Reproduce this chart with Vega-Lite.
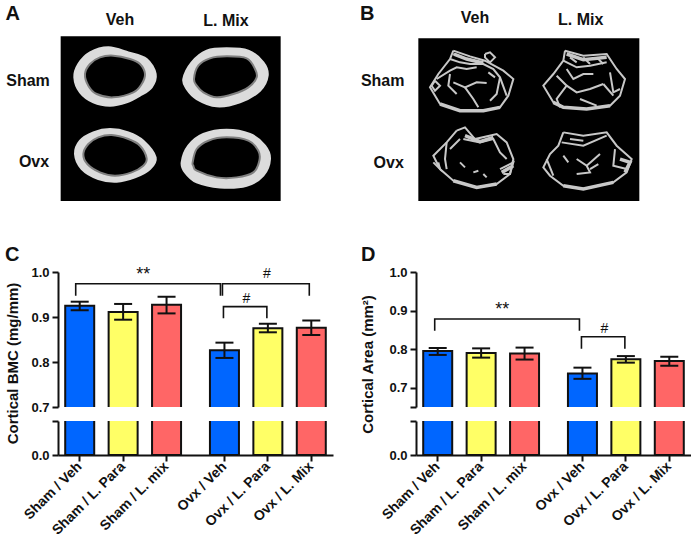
{
"$schema":"https://vega.github.io/schema/vega-lite/v6.json",
"padding":{"left":4,"top":3,"right":0,"bottom":0},
"background":"white",
"bounds":"flush",
"columns":2,
"spacing":{"row":14,"column":83},
"config":{"view":{"stroke":null},"font":"Liberation Sans","axis":{"labelFont":"Liberation Sans","titleFont":"Liberation Sans","labelFontWeight":"bold","titleFontWeight":"bold","labelFontSize":13,"titleFontSize":15,"labelColor":"#111","titleColor":"#111","domainColor":"#111","tickColor":"#111","domainWidth":2,"tickWidth":2,"tickSize":6,"grid":false,"labelPadding":3,"labelOverlap":false}},
"datasets":{
"frameA":[{"x":182,"x2":842,"y":112,"y2":606}],
"frameB":[{"x":205,"x2":868,"y":118,"y2":606}],
"labelsA":[{"t":"Veh","x":360,"y":63},{"t":"L. Mix","x":678,"y":66},{"t":"Sham","x":84,"y":247},{"t":"Ovx","x":102,"y":489}],
"labelsB":[{"t":"Veh","x":375,"y":58},{"t":"L. Mix","x":692,"y":63},{"t":"Sham","x":98,"y":246},{"t":"Ovx","x":116,"y":491}],
"outer":[
{"r":1,"i":1,"x":223,"y":235},{"r":1,"i":2,"x":235,"y":195},{"r":1,"i":3,"x":270,"y":160},{"r":1,"i":4,"x":325,"y":145},{"r":1,"i":5,"x":385,"y":160},{"r":1,"i":6,"x":440,"y":180},{"r":1,"i":7,"x":467,"y":225},{"r":1,"i":8,"x":455,"y":265},{"r":1,"i":9,"x":420,"y":290},{"r":1,"i":10,"x":380,"y":310},{"r":1,"i":11,"x":330,"y":320},{"r":1,"i":12,"x":280,"y":310},{"r":1,"i":13,"x":240,"y":280},
{"r":2,"i":1,"x":550,"y":240},{"r":2,"i":2,"x":575,"y":190},{"r":2,"i":3,"x":620,"y":155},{"r":2,"i":4,"x":680,"y":148},{"r":2,"i":5,"x":745,"y":155},{"r":2,"i":6,"x":790,"y":190},{"r":2,"i":7,"x":803,"y":230},{"r":2,"i":8,"x":780,"y":275},{"r":2,"i":9,"x":720,"y":310},{"r":2,"i":10,"x":650,"y":322},{"r":2,"i":11,"x":590,"y":300},{"r":2,"i":12,"x":560,"y":270},
{"r":3,"i":1,"x":225,"y":465},{"r":3,"i":2,"x":240,"y":425},{"r":3,"i":3,"x":280,"y":400},{"r":3,"i":4,"x":330,"y":390},{"r":3,"i":5,"x":385,"y":400},{"r":3,"i":6,"x":430,"y":425},{"r":3,"i":7,"x":467,"y":475},{"r":3,"i":8,"x":450,"y":510},{"r":3,"i":9,"x":405,"y":535},{"r":3,"i":10,"x":350,"y":548},{"r":3,"i":11,"x":295,"y":540},{"r":3,"i":12,"x":245,"y":510},
{"r":4,"i":1,"x":545,"y":490},{"r":4,"i":2,"x":565,"y":440},{"r":4,"i":3,"x":610,"y":405},{"r":4,"i":4,"x":680,"y":392},{"r":4,"i":5,"x":750,"y":405},{"r":4,"i":6,"x":795,"y":440},{"r":4,"i":7,"x":810,"y":480},{"r":4,"i":8,"x":790,"y":530},{"r":4,"i":9,"x":740,"y":560},{"r":4,"i":10,"x":660,"y":565},{"r":4,"i":11,"x":590,"y":550},{"r":4,"i":12,"x":555,"y":520}],
"inner":[
{"r":1,"i":1,"x":255,"y":225},{"r":1,"i":2,"x":270,"y":195},{"r":1,"i":3,"x":300,"y":175},{"r":1,"i":4,"x":340,"y":170},{"r":1,"i":5,"x":390,"y":180},{"r":1,"i":6,"x":420,"y":195},{"r":1,"i":7,"x":435,"y":225},{"r":1,"i":8,"x":425,"y":255},{"r":1,"i":9,"x":400,"y":280},{"r":1,"i":10,"x":340,"y":295},{"r":1,"i":11,"x":290,"y":285},{"r":1,"i":12,"x":265,"y":260},
{"r":2,"i":1,"x":582,"y":240},{"r":2,"i":2,"x":595,"y":200},{"r":2,"i":3,"x":630,"y":178},{"r":2,"i":4,"x":680,"y":172},{"r":2,"i":5,"x":740,"y":178},{"r":2,"i":6,"x":765,"y":210},{"r":2,"i":7,"x":770,"y":235},{"r":2,"i":8,"x":745,"y":265},{"r":2,"i":9,"x":700,"y":285},{"r":2,"i":10,"x":650,"y":295},{"r":2,"i":11,"x":610,"y":280},{"r":2,"i":12,"x":590,"y":260},
{"r":3,"i":1,"x":250,"y":465},{"r":3,"i":2,"x":265,"y":435},{"r":3,"i":3,"x":295,"y":415},{"r":3,"i":4,"x":335,"y":408},{"r":3,"i":5,"x":385,"y":420},{"r":3,"i":6,"x":420,"y":440},{"r":3,"i":7,"x":440,"y":478},{"r":3,"i":8,"x":430,"y":500},{"r":3,"i":9,"x":395,"y":520},{"r":3,"i":10,"x":345,"y":530},{"r":3,"i":11,"x":300,"y":520},{"r":3,"i":12,"x":262,"y":495},
{"r":4,"i":1,"x":578,"y":490},{"r":4,"i":2,"x":590,"y":450},{"r":4,"i":3,"x":625,"y":425},{"r":4,"i":4,"x":680,"y":415},{"r":4,"i":5,"x":745,"y":425},{"r":4,"i":6,"x":775,"y":455},{"r":4,"i":7,"x":778,"y":485},{"r":4,"i":8,"x":760,"y":520},{"r":4,"i":9,"x":710,"y":535},{"r":4,"i":10,"x":650,"y":535},{"r":4,"i":11,"x":590,"y":515},{"r":4,"i":12,"x":580,"y":500}],
"bands":[
{"s":"a","i":1,"x":312,"y":165},{"s":"a","i":2,"x":350,"y":180},{"s":"a","i":3,"x":400,"y":192},
{"s":"b","i":1,"x":650,"y":165},{"s":"b","i":2,"x":700,"y":182},{"s":"b","i":3,"x":770,"y":175},
{"s":"c","i":1,"x":345,"y":410},{"s":"c","i":2,"x":390,"y":428},{"s":"c","i":3,"x":430,"y":415},
{"s":"d","i":1,"x":455,"y":520},{"s":"d","i":2,"x":490,"y":500},
{"s":"e","i":1,"x":270,"y":315},{"s":"e","i":2,"x":330,"y":335},{"s":"e","i":3,"x":400,"y":335},{"s":"e","i":4,"x":450,"y":325},
{"s":"f","i":1,"x":610,"y":310},{"s":"f","i":2,"x":640,"y":325},{"s":"f","i":3,"x":710,"y":330},{"s":"f","i":4,"x":780,"y":320},
{"s":"g","i":1,"x":310,"y":545},{"s":"g","i":2,"x":380,"y":565},{"s":"g","i":3,"x":440,"y":555},
{"s":"h","i":1,"x":640,"y":560},{"s":"h","i":2,"x":700,"y":570},{"s":"h","i":3,"x":790,"y":550},
{"s":"k","i":1,"x":810,"y":480},{"s":"k","i":2,"x":840,"y":490},{"s":"k","i":3,"x":825,"y":520}],
"trabeculae":[
{"s":"a","i":1,"x":310,"y":155},{"s":"a","i":2,"x":360,"y":172},{"s":"a","i":3,"x":405,"y":185},{"s":"a","i":4,"x":460,"y":215},{"s":"a","i":5,"x":490,"y":240},{"s":"a","i":6,"x":475,"y":290},{"s":"a","i":7,"x":450,"y":325},{"s":"a","i":8,"x":400,"y":335},{"s":"a","i":9,"x":330,"y":335},{"s":"a","i":10,"x":270,"y":315},{"s":"a","i":11,"x":240,"y":265},{"s":"a","i":12,"x":265,"y":225},{"s":"a","i":13,"x":300,"y":180},{"s":"a","i":14,"x":310,"y":155},
{"s":"b","i":1,"x":300,"y":180},{"s":"b","i":2,"x":330,"y":190},{"s":"b","i":3,"x":360,"y":195},{"s":"b","i":4,"x":400,"y":195},{"s":"b","i":5,"x":430,"y":210},{"s":"b","i":6,"x":450,"y":235},{"s":"b","i":7,"x":470,"y":290},
{"s":"c","i":1,"x":260,"y":240},{"s":"c","i":2,"x":300,"y":215},{"s":"c","i":3,"x":320,"y":205},{"s":"c","i":4,"x":350,"y":210},{"s":"c","i":5,"x":380,"y":205},
{"s":"d","i":1,"x":300,"y":225},{"s":"d","i":2,"x":295,"y":260},{"s":"d","i":3,"x":320,"y":285},
{"s":"e","i":1,"x":310,"y":250},{"s":"e","i":2,"x":345,"y":265},{"s":"e","i":3,"x":380,"y":250},{"s":"e","i":4,"x":410,"y":252},
{"s":"f","i":1,"x":345,"y":265},{"s":"f","i":2,"x":370,"y":300},{"s":"f","i":3,"x":385,"y":325},
{"s":"g","i":1,"x":450,"y":235},{"s":"g","i":2,"x":440,"y":285},{"s":"g","i":3,"x":420,"y":305},
{"s":"h","i":1,"x":415,"y":220},{"s":"h","i":2,"x":435,"y":235},
{"s":"k","i":1,"x":405,"y":165},{"s":"k","i":2,"x":420,"y":160},{"s":"k","i":3,"x":435,"y":175},{"s":"k","i":4,"x":420,"y":190},{"s":"k","i":5,"x":405,"y":175},{"s":"k","i":6,"x":405,"y":165},
{"s":"l","i":1,"x":310,"y":165},{"s":"l","i":2,"x":350,"y":180},{"s":"l","i":3,"x":390,"y":190},
{"s":"m","i":1,"x":255,"y":245},{"s":"m","i":2,"x":270,"y":260},{"s":"m","i":3,"x":255,"y":275},{"s":"m","i":4,"x":245,"y":260},{"s":"m","i":5,"x":255,"y":245},
{"s":"n","i":1,"x":645,"y":155},{"s":"n","i":2,"x":700,"y":170},{"s":"n","i":3,"x":770,"y":165},{"s":"n","i":4,"x":800,"y":210},{"s":"n","i":5,"x":825,"y":240},{"s":"n","i":6,"x":810,"y":290},{"s":"n","i":7,"x":780,"y":320},{"s":"n","i":8,"x":710,"y":330},{"s":"n","i":9,"x":640,"y":325},{"s":"n","i":10,"x":610,"y":310},{"s":"n","i":11,"x":580,"y":260},{"s":"n","i":12,"x":610,"y":225},{"s":"n","i":13,"x":640,"y":185},{"s":"n","i":14,"x":645,"y":155},
{"s":"o","i":1,"x":640,"y":185},{"s":"o","i":2,"x":680,"y":205},{"s":"o","i":3,"x":720,"y":200},{"s":"o","i":4,"x":770,"y":190},
{"s":"p","i":1,"x":660,"y":175},{"s":"p","i":2,"x":680,"y":190},
{"s":"q","i":1,"x":700,"y":175},{"s":"q","i":2,"x":720,"y":195},
{"s":"r","i":1,"x":740,"y":175},{"s":"r","i":2,"x":760,"y":195},
{"s":"t","i":1,"x":620,"y":230},{"s":"t","i":2,"x":650,"y":260},{"s":"t","i":3,"x":620,"y":300},{"s":"t","i":4,"x":630,"y":325},
{"s":"u","i":1,"x":650,"y":260},{"s":"u","i":2,"x":680,"y":280},{"s":"u","i":3,"x":720,"y":270},{"s":"u","i":4,"x":760,"y":255},
{"s":"v","i":1,"x":650,"y":210},{"s":"v","i":2,"x":670,"y":240},{"s":"v","i":3,"x":700,"y":225},{"s":"v","i":4,"x":730,"y":225},
{"s":"w","i":1,"x":780,"y":220},{"s":"w","i":2,"x":790,"y":280},{"s":"w","i":3,"x":810,"y":270},
{"s":"x","i":1,"x":760,"y":255},{"s":"x","i":2,"x":790,"y":290},
{"s":"y","i":1,"x":690,"y":300},{"s":"y","i":2,"x":740,"y":320},
{"s":"z","i":1,"x":320,"y":395},{"s":"z","i":2,"x":345,"y":385},{"s":"z","i":3,"x":375,"y":420},{"s":"z","i":4,"x":440,"y":405},{"s":"z","i":5,"x":470,"y":430},{"s":"z","i":6,"x":490,"y":480},{"s":"z","i":7,"x":480,"y":525},{"s":"z","i":8,"x":440,"y":555},{"s":"z","i":9,"x":380,"y":565},{"s":"z","i":10,"x":310,"y":545},{"s":"z","i":11,"x":270,"y":510},{"s":"z","i":12,"x":250,"y":470},{"s":"z","i":13,"x":290,"y":430},{"s":"z","i":14,"x":320,"y":395},
{"s":"aa","i":1,"x":290,"y":430},{"s":"aa","i":2,"x":285,"y":480},{"s":"aa","i":3,"x":290,"y":510},
{"s":"ab","i":1,"x":340,"y":420},{"s":"ab","i":2,"x":390,"y":430},{"s":"ab","i":3,"x":430,"y":420},{"s":"ab","i":4,"x":450,"y":460},{"s":"ab","i":5,"x":470,"y":480},
{"s":"ac","i":1,"x":450,"y":510},{"s":"ac","i":2,"x":490,"y":490},{"s":"ac","i":3,"x":480,"y":525},{"s":"ac","i":4,"x":460,"y":525},
{"s":"ad","i":1,"x":250,"y":490},{"s":"ad","i":2,"x":270,"y":510},{"s":"ad","i":3,"x":265,"y":490},
{"s":"ae","i":1,"x":330,"y":490},{"s":"ae","i":2,"x":345,"y":505},
{"s":"af","i":1,"x":400,"y":525},{"s":"af","i":2,"x":410,"y":535},
{"s":"ag","i":1,"x":370,"y":520},{"s":"ag","i":2,"x":385,"y":515},
{"s":"ah","i":1,"x":300,"y":450},{"s":"ah","i":2,"x":330,"y":420},
{"s":"ba","i":1,"x":640,"y":400},{"s":"ba","i":2,"x":700,"y":410},{"s":"ba","i":3,"x":770,"y":400},{"s":"ba","i":4,"x":800,"y":440},{"s":"ba","i":5,"x":845,"y":480},{"s":"ba","i":6,"x":830,"y":520},{"s":"ba","i":7,"x":790,"y":550},{"s":"ba","i":8,"x":700,"y":570},{"s":"ba","i":9,"x":640,"y":560},{"s":"ba","i":10,"x":600,"y":530},{"s":"ba","i":11,"x":580,"y":505},{"s":"ba","i":12,"x":600,"y":465},{"s":"ba","i":13,"x":625,"y":440},{"s":"ba","i":14,"x":640,"y":400},
{"s":"bb","i":1,"x":635,"y":430},{"s":"bb","i":2,"x":700,"y":440},{"s":"bb","i":3,"x":770,"y":410},
{"s":"bc","i":1,"x":660,"y":420},{"s":"bc","i":2,"x":700,"y":425},
{"s":"bd","i":1,"x":680,"y":480},{"s":"bd","i":2,"x":710,"y":500},{"s":"bd","i":3,"x":720,"y":520},{"s":"bd","i":4,"x":680,"y":525},
{"s":"be","i":1,"x":710,"y":500},{"s":"be","i":2,"x":750,"y":465},
{"s":"bf","i":1,"x":720,"y":510},{"s":"bf","i":2,"x":745,"y":495},
{"s":"bg","i":1,"x":795,"y":450},{"s":"bg","i":2,"x":790,"y":500},{"s":"bg","i":3,"x":830,"y":510},
{"s":"bh","i":1,"x":590,"y":480},{"s":"bh","i":2,"x":610,"y":530},
{"s":"bi","i":1,"x":640,"y":470},{"s":"bi","i":2,"x":655,"y":490}],
"bmc":[
{"g":"Sham / Veh","t":"Veh","v":0.925,"lo":0.915,"hi":0.934},
{"g":"Sham / L. Para","t":"Para","v":0.911,"lo":0.894,"hi":0.929},
{"g":"Sham / L. mix","t":"Mix","v":0.927,"lo":0.908,"hi":0.945},
{"g":"Ovx / Veh","t":"Veh","v":0.826,"lo":0.809,"hi":0.843},
{"g":"Ovx / L. Para","t":"Para","v":0.875,"lo":0.866,"hi":0.885},
{"g":"Ovx / L. Mix","t":"Mix","v":0.876,"lo":0.860,"hi":0.892}],
"area":[
{"g":"Sham / Veh","t":"Veh","v":0.795,"lo":0.785,"hi":0.803},
{"g":"Sham / L. Para","t":"Para","v":0.790,"lo":0.778,"hi":0.802},
{"g":"Sham / L. mix","t":"Mix","v":0.789,"lo":0.773,"hi":0.804},
{"g":"Ovx / Veh","t":"Veh","v":0.737,"lo":0.723,"hi":0.752},
{"g":"Ovx / L. Para","t":"Para","v":0.774,"lo":0.765,"hi":0.782},
{"g":"Ovx / L. Mix","t":"Mix","v":0.769,"lo":0.757,"hi":0.780}]
},
"concat":[
{"width":275,"height":221.4,
 "encoding":{"x":{"field":"x","type":"quantitative","scale":{"domain":[174,999],"nice":false,"zero":false},"axis":null},"y":{"field":"y","type":"quantitative","scale":{"domain":[775,111],"nice":false,"zero":false},"axis":null}},
 "layer":[
 {"data":{"name":"frameA"},"mark":{"type":"rect","color":"black"},"encoding":{"x2":{"field":"x2"},"y2":{"field":"y2"}}},
 {"data":{"name":"outer"},"mark":{"type":"line","filled":true,"fill":"#dcdcdc","stroke":"#dcdcdc","interpolate":"cardinal-closed"},"encoding":{"detail":{"field":"r"},"order":{"field":"i"}}},
 {"data":{"name":"inner"},"mark":{"type":"line","filled":true,"fill":"black","stroke":"#808080","strokeWidth":2,"interpolate":"cardinal-closed"},"encoding":{"detail":{"field":"r"},"order":{"field":"i"}}},
 {"data":{"name":"labelsA"},"mark":{"type":"text","fontWeight":"bold","fontSize":16,"color":"#111","baseline":"middle"},"encoding":{"text":{"field":"t"}}},
 {"data":{"values":[{"t":"A","x":38,"y":44}]},"mark":{"type":"text","fontWeight":"bold","fontSize":20,"color":"#111","baseline":"middle"},"encoding":{"text":{"field":"t"}}}
 ]},
{"width":275,"height":221.4,
 "encoding":{"x":{"field":"x","type":"quantitative","scale":{"domain":[198,1023],"nice":false,"zero":false},"axis":null},"y":{"field":"y","type":"quantitative","scale":{"domain":[775,111],"nice":false,"zero":false},"axis":null}},
 "layer":[
 {"data":{"name":"frameB"},"mark":{"type":"rect","color":"black"},"encoding":{"x2":{"field":"x2"},"y2":{"field":"y2"}}},
 {"data":{"name":"trabeculae"},"mark":{"type":"line","stroke":"#c8c8c8","strokeWidth":2},"encoding":{"detail":{"field":"s"},"order":{"field":"i"}}},
 {"data":{"name":"bands"},"mark":{"type":"line","stroke":"#c8c8c8","strokeWidth":3.5},"encoding":{"detail":{"field":"s"},"order":{"field":"i"}}},
 {"data":{"name":"labelsB"},"mark":{"type":"text","fontWeight":"bold","fontSize":16,"color":"#111","baseline":"middle"},"encoding":{"text":{"field":"t"}}},
 {"data":{"values":[{"t":"B","x":52,"y":44}]},"mark":{"type":"text","fontWeight":"bold","fontSize":20,"color":"#111","baseline":"middle"},"encoding":{"text":{"field":"t"}}}
 ]},
 {"title":{"text":"C","anchor":"start","frame":"group","fontSize":20,"fontWeight":"bold","color":"#111","dx":-53,"offset":1},
  "width":275,"height":135,"data":{"name":"bmc"},
  "layer":[
  {"mark":{"type":"bar","width":29,"stroke":"#111","strokeWidth":2,"clip":true},
   "encoding":{"x":{"field":"g","type":"nominal","scale":{"type":"band","paddingInner":0,"paddingOuter":0,"domain":["s0","Sham / Veh","s2","s3","Sham / L. Para","s5","s6","Sham / L. mix","s8","s9","s10","Ovx / Veh","s12","s13","Ovx / L. Para","s15","s16","Ovx / L. Mix","s18"]},"axis":null},
   "y":{"field":"v","type":"quantitative","scale":{"domain":[0.7,1.0],"nice":false,"zero":false},"axis":{"values":[0.7,0.8,0.9,1.0],"format":".1f","title":"Cortical BMC (mg/mm)","titleX":-46,"titleY":91,"titleAlign":"center","titleBaseline":"middle","titleAnchor":null}},
   "y2":{"datum":0},
   "color":{"field":"t","type":"nominal","scale":{"domain":["Veh","Para","Mix"],"range":["#0066ff","#ffff66","#ff6666"]},"legend":null}}},
  {"mark":{"type":"rule","stroke":"#111","strokeWidth":2},"encoding":{"x":{"field":"g","type":"nominal"},"y":{"field":"lo","type":"quantitative"},"y2":{"field":"hi"}}},
  {"mark":{"type":"tick","color":"#111","size":18,"thickness":2,"opacity":1},"encoding":{"x":{"field":"g","type":"nominal"},"y":{"field":"lo","type":"quantitative"}}},
  {"mark":{"type":"tick","color":"#111","size":18,"thickness":2,"opacity":1},"encoding":{"x":{"field":"g","type":"nominal"},"y":{"field":"hi","type":"quantitative"}}},
  {"data":{"values":[{"x":"Sham / Veh","y":0.947,"k":1},{"x":"Sham / Veh","y":0.974,"k":2},{"x":"Ovx / Veh","y":0.974,"k":3},{"x":"Ovx / Veh","y":0.947,"k":4}]},"mark":{"type":"line","stroke":"#111","strokeWidth":1.6,"xOffset":-4},"encoding":{"x":{"field":"x","type":"nominal"},"y":{"field":"y","type":"quantitative"},"order":{"field":"k"}}},
  {"data":{"values":[{"x":"Ovx / Veh","y":0.947,"k":1},{"x":"Ovx / Veh","y":0.974,"k":2},{"x":"Ovx / L. Mix","y":0.974,"k":3},{"x":"Ovx / L. Mix","y":0.947,"k":4}]},"mark":{"type":"line","stroke":"#111","strokeWidth":1.6,"xOffset":-2},"encoding":{"x":{"field":"x","type":"nominal"},"y":{"field":"y","type":"quantitative"},"order":{"field":"k"}}},
  {"data":{"values":[{"x":"Ovx / Veh","y":0.897,"k":1},{"x":"Ovx / Veh","y":0.923,"k":2},{"x":"Ovx / L. Para","y":0.923,"k":3},{"x":"Ovx / L. Para","y":0.897,"k":4}]},"mark":{"type":"line","stroke":"#111","strokeWidth":1.6,"xOffset":-1},"encoding":{"x":{"field":"x","type":"nominal"},"y":{"field":"y","type":"quantitative"},"order":{"field":"k"}}},
  {"data":{"values":[{"x":"Sham / L. Para","y":1.004,"t":"**"}]},"mark":{"type":"text","fontSize":18,"dx":20,"dy":5,"color":"#111","baseline":"middle"},"encoding":{"x":{"field":"x","type":"nominal"},"y":{"field":"y","type":"quantitative"},"text":{"field":"t"}}},
  {"data":{"values":[{"x":"Ovx / L. Para","y":0.995,"t":"#"}]},"mark":{"type":"text","fontSize":14,"dx":-1,"color":"#111","baseline":"middle"},"encoding":{"x":{"field":"x","type":"nominal"},"y":{"field":"y","type":"quantitative"},"text":{"field":"t"}}},
  {"data":{"values":[{"x":"Ovx / Veh","y":0.941,"t":"#"}]},"mark":{"type":"text","fontSize":14,"dx":22,"color":"#111","baseline":"middle"},"encoding":{"x":{"field":"x","type":"nominal"},"y":{"field":"y","type":"quantitative"},"text":{"field":"t"}}}
  ]},
 {"title":{"text":"D","anchor":"start","frame":"group","fontSize":20,"fontWeight":"bold","color":"#111","dx":-55,"offset":1},
  "width":275,"height":135,"data":{"name":"area"},
  "layer":[
  {"mark":{"type":"bar","width":29,"stroke":"#111","strokeWidth":2,"clip":true},
   "encoding":{"x":{"field":"g","type":"nominal","scale":{"type":"band","paddingInner":0,"paddingOuter":0,"domain":["s0","Sham / Veh","s2","s3","Sham / L. Para","s5","s6","Sham / L. mix","s8","s9","s10","Ovx / Veh","s12","s13","Ovx / L. Para","s15","s16","Ovx / L. Mix","s18"]},"axis":null},
   "y":{"field":"v","type":"quantitative","scale":{"domain":[0.65,1.0],"nice":false,"zero":false},"axis":{"values":[0.65,0.7,0.8,0.9,1.0],"tickCount":6,"labelExpr":"datum.value==0.65?'':format(datum.value,'.1f')","labelOverlap":false,"title":"Cortical Area (mm²)","titleX":-49,"titleY":92,"titleAlign":"center","titleBaseline":"middle","titleAnchor":null}},
   "y2":{"datum":0},
   "color":{"field":"t","type":"nominal","scale":{"domain":["Veh","Para","Mix"],"range":["#0066ff","#ffff66","#ff6666"]},"legend":null}}},
  {"mark":{"type":"rule","stroke":"#111","strokeWidth":2},"encoding":{"x":{"field":"g","type":"nominal"},"y":{"field":"lo","type":"quantitative"},"y2":{"field":"hi"}}},
  {"mark":{"type":"tick","color":"#111","size":18,"thickness":2,"opacity":1},"encoding":{"x":{"field":"g","type":"nominal"},"y":{"field":"lo","type":"quantitative"}}},
  {"mark":{"type":"tick","color":"#111","size":18,"thickness":2,"opacity":1},"encoding":{"x":{"field":"g","type":"nominal"},"y":{"field":"hi","type":"quantitative"}}},
  {"data":{"values":[{"x":"Sham / Veh","y":0.848,"k":1},{"x":"Sham / Veh","y":0.878,"k":2},{"x":"Ovx / Veh","y":0.878,"k":3},{"x":"Ovx / Veh","y":0.848,"k":4}]},"mark":{"type":"line","stroke":"#111","strokeWidth":1.6,"xOffset":-3},"encoding":{"x":{"field":"x","type":"nominal"},"y":{"field":"y","type":"quantitative"},"order":{"field":"k"}}},
  {"data":{"values":[{"x":"Ovx / Veh","y":0.801,"k":1},{"x":"Ovx / Veh","y":0.832,"k":2},{"x":"Ovx / L. Para","y":0.832,"k":3},{"x":"Ovx / L. Para","y":0.801,"k":4}]},"mark":{"type":"line","stroke":"#111","strokeWidth":1.6,"xOffset":-1},"encoding":{"x":{"field":"x","type":"nominal"},"y":{"field":"y","type":"quantitative"},"order":{"field":"k"}}},
  {"data":{"values":[{"x":"Sham / L. Para","y":0.914,"t":"**"}]},"mark":{"type":"text","fontSize":18,"dx":21,"dy":5,"color":"#111","baseline":"middle"},"encoding":{"x":{"field":"x","type":"nominal"},"y":{"field":"y","type":"quantitative"},"text":{"field":"t"}}},
  {"data":{"values":[{"x":"Ovx / Veh","y":0.851,"t":"#"}]},"mark":{"type":"text","fontSize":14,"dx":22,"color":"#111","baseline":"middle"},"encoding":{"x":{"field":"x","type":"nominal"},"y":{"field":"y","type":"quantitative"},"text":{"field":"t"}}}
  ]},
 {"width":275,"height":34,"data":{"name":"bmc"},
  "mark":{"type":"bar","width":29,"stroke":"#111","strokeWidth":2,"clip":true},
  "encoding":{"x":{"field":"g","type":"nominal","scale":{"type":"band","paddingInner":0,"paddingOuter":0,"domain":["s0","Sham / Veh","s2","s3","Sham / L. Para","s5","s6","Sham / L. mix","s8","s9","s10","Ovx / Veh","s12","s13","Ovx / L. Para","s15","s16","Ovx / L. Mix","s18"]},"axis":{"values":["Sham / Veh","Sham / L. Para","Sham / L. mix","Ovx / Veh","Ovx / L. Para","Ovx / L. Mix"],"labelAngle":-45,"labelAlign":"right","labelBaseline":"middle","labelFontSize":14,"title":null}},
  "y":{"field":"v","type":"quantitative","scale":{"domain":[0,0.1],"nice":false,"zero":false},"axis":{"values":[0,0.1],"labelExpr":"datum.value==0?'0.0':''","title":null}},
  "y2":{"datum":0},
  "color":{"field":"t","type":"nominal","scale":{"domain":["Veh","Para","Mix"],"range":["#0066ff","#ffff66","#ff6666"]},"legend":null}}},
 {"width":275,"height":34,"data":{"name":"area"},
  "mark":{"type":"bar","width":29,"stroke":"#111","strokeWidth":2,"clip":true},
  "encoding":{"x":{"field":"g","type":"nominal","scale":{"type":"band","paddingInner":0,"paddingOuter":0,"domain":["s0","Sham / Veh","s2","s3","Sham / L. Para","s5","s6","Sham / L. mix","s8","s9","s10","Ovx / Veh","s12","s13","Ovx / L. Para","s15","s16","Ovx / L. Mix","s18"]},"axis":{"values":["Sham / Veh","Sham / L. Para","Sham / L. mix","Ovx / Veh","Ovx / L. Para","Ovx / L. Mix"],"labelAngle":-45,"labelAlign":"right","labelBaseline":"middle","labelFontSize":14,"title":null}},
  "y":{"field":"v","type":"quantitative","scale":{"domain":[0,0.1],"nice":false,"zero":false},"axis":{"values":[0,0.1],"labelExpr":"datum.value==0?'0.0':''","title":null}},
  "y2":{"datum":0},
  "color":{"field":"t","type":"nominal","scale":{"domain":["Veh","Para","Mix"],"range":["#0066ff","#ffff66","#ff6666"]},"legend":null}}}
]}
